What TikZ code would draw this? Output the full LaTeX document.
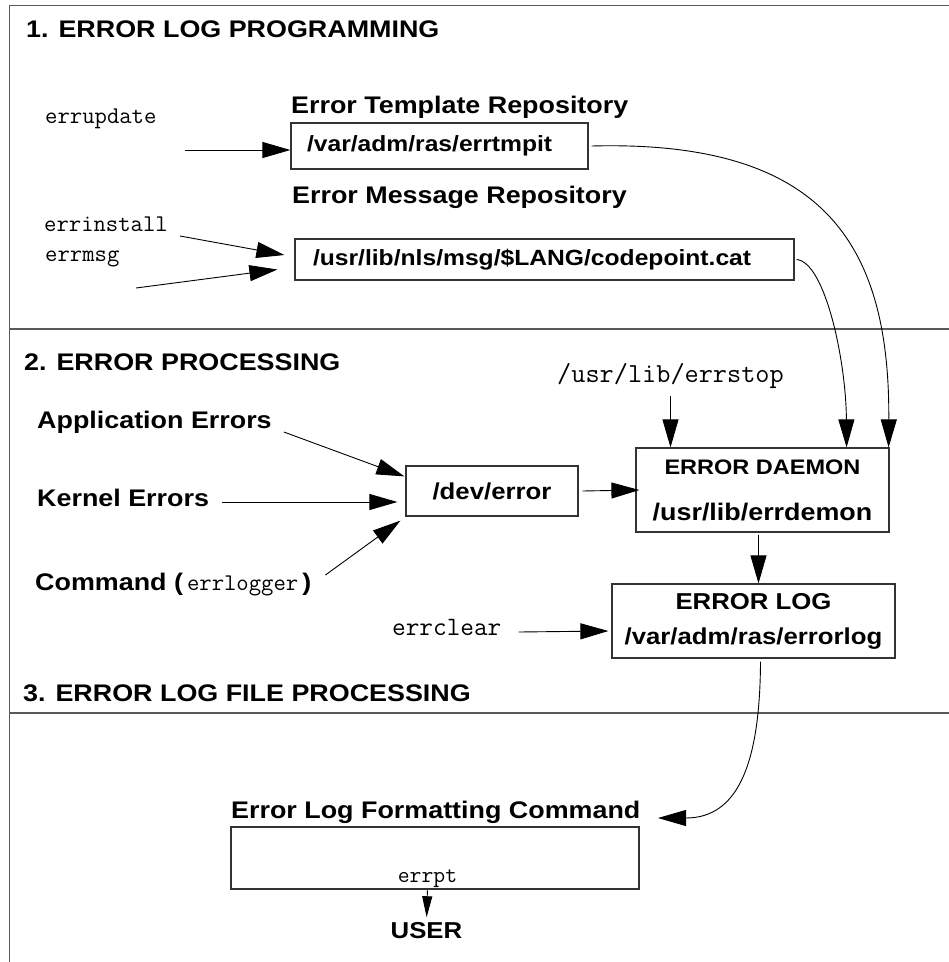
\documentclass[tikz,border=0pt]{standalone}
\usepackage{fontspec}
\setmainfont{Liberation Sans}[FakeStretch=1.12]
\usepackage{tikz}
\usetikzlibrary{arrows.meta,positioning}
\newcommand{\Cmd}[1]{{\ttfamily\mdseries #1}}

\begin{document}
\begin{tikzpicture}[
  x=1pt, y=-1pt,
  head/.style={anchor=base west, inner sep=0pt, font=\fontsize{24}{29}\selectfont\bfseries},
  lbl/.style={anchor=base west, inner sep=0pt, font=\fontsize{24}{29}\selectfont\bfseries},
  cmd/.style={anchor=base west, inner sep=0pt, font=\fontsize{24}{28}\selectfont\ttfamily\mdseries},
  box/.style={draw=black!80, line width=1.2pt, align=center, inner sep=0pt,
    font=\fontsize{23}{28}\selectfont\bfseries},
  frame/.style={draw=black!65, line width=1.6pt},
  link/.style={-{Triangle[length=28pt,width=16pt]}, line width=0.9pt},
  small link/.style={-{Triangle[length=21pt,width=10pt]}, line width=0.9pt}
]
\useasboundingbox (0,0) rectangle (949,962);

% panels
\draw[frame] (949,5.5) -- (9.5,5.5) -- (9.5,962);
\draw[frame] (9.5,329) -- (949,329);
\draw[frame] (9.5,713) -- (949,713);

\node[head] (h1) at (26,37) {1. ERROR LOG PROGRAMMING};
\node[head] (h2) at (24,370) {2. ERROR PROCESSING};
\node[head] (h3) at (23,701) {3. ERROR LOG FILE PROCESSING};

% 1. error log programming
\node[lbl] (tmpllbl) at (291,113) {Error Template Repository};
\node[box, text width=265pt, align=left, inner xsep=16pt, minimum height=46pt,
  font=\fontsize{22}{26}\selectfont\bfseries] (tmplbox) at (439.5,146) {/var/adm/ras/errtmpit};
\node[lbl] (msglbl) at (292,203) {Error Message Repository};
\node[box, text width=463pt, align=left, inner xsep=18pt, minimum height=41pt,
  font=\fontsize{22}{26}\selectfont\bfseries] (msgbox) at (544.5,259.5) {/usr/lib/nls/msg/\$LANG/codepoint.cat};

\node[cmd] (update) at (45,123) {errupdate};
\node[cmd] (install) at (44,231) {errinstall};
\node[cmd] (msg) at (45,261) {errmsg};
\coordinate (updsrc) at (185,150);
\coordinate (instsrc) at (180,236);
\coordinate (msgsrc) at (136,288);

\draw[link] (updsrc) -- (updsrc -| tmplbox.west);
\draw[link] (instsrc) -- ([xshift=-10pt,yshift=4.5pt]msgbox.west);
\draw[link] (msgsrc) -- ([xshift=-17pt,yshift=-10pt]msgbox.west);

% 2. error processing
\node[lbl] (appl) at (37,428) {Application Errors};
\node[lbl] (kern) at (37,506) {Kernel Errors};
\node[lbl] (cmdlbl) at (35,590) {Command (\hspace{4pt}{\fontsize{24}{28}\selectfont\Cmd{errlogger}}\hspace{4pt})};

\node[box, minimum width=172pt, minimum height=50pt] (devbox) at (492,491) {/dev/error};
\node[box, minimum width=253pt, minimum height=84pt, font=\fontsize{24}{46}\selectfont\bfseries]
  (daemon) at (762.5,490) {{\fontsize{21}{46}\selectfont ERROR DAEMON}\\/usr/lib/errdemon};
\node[box, minimum width=283pt, minimum height=74pt, font=\fontsize{23}{35}\selectfont\bfseries]
  (logbox) at (753.5,621) {ERROR LOG\\/var/adm/ras/errorlog};

\node[cmd, font=\fontsize{27.5}{32}\selectfont\ttfamily\mdseries] (stop) at (557,382) {/usr/lib/errstop};
\node[cmd, font=\fontsize{26.5}{31}\selectfont\ttfamily\mdseries] (clear) at (392,635) {errclear};

\draw[link] ([xshift=12pt,yshift=-4pt]appl.base east) -- ([xshift=-1pt,yshift=-11pt]devbox.north west);
\draw[link] ([xshift=13pt,yshift=4pt]kern.base east) -- ([xshift=-8pt,yshift=-11pt]devbox.west);
\draw[link] ([xshift=14pt,yshift=15pt]cmdlbl.base east) -- ([xshift=-5pt,yshift=-4pt]devbox.south west);
\draw[link] ([xshift=4pt]devbox.east) -- ([xshift=4pt]daemon.west);
\draw[link, shorten <=8pt] (stop.south) -- (stop.south |- daemon.north);
\draw[link, shorten <=2pt] ([xshift=-4pt]daemon.south) -- ([xshift=-4pt]daemon.south |- logbox.north);
\draw[link] ([xshift=17pt,yshift=3pt]clear.base east) -- ([xshift=-3pt,yshift=-10pt]logbox.west);

\draw[link] ([xshift=3pt]tmplbox.east) .. controls (820,140) and (890,240) .. ([xshift=-1pt]daemon.north east);
\draw[link] ([xshift=2pt]msgbox.east) .. controls (825,262) and (846,360) .. ([xshift=-43pt]daemon.north east);

% 3. error log file processing
\node[lbl] (fmtlbl) at (231,818) {Error Log Formatting Command};
\node[box, minimum width=408pt, minimum height=62pt] (fmtbox) at (435,858) {};
\node[cmd, anchor=base, font=\fontsize{23}{27}\selectfont\ttfamily\mdseries] (errpt) at (427.5,882) {errpt};
\node[lbl, anchor=base, font=\fontsize{23}{28}\selectfont\bfseries] (user) at (426.5,938) {USER};
\coordinate (fmtin) at (658,818);

\draw[link] ([xshift=7pt,yshift=-3pt]logbox.south) .. controls (760,770) and (735,818) .. (fmtin);
\draw[small link, shorten <=3pt, shorten >=4.5pt] (errpt.south) -- (user.north);

\end{tikzpicture}
\end{document}
